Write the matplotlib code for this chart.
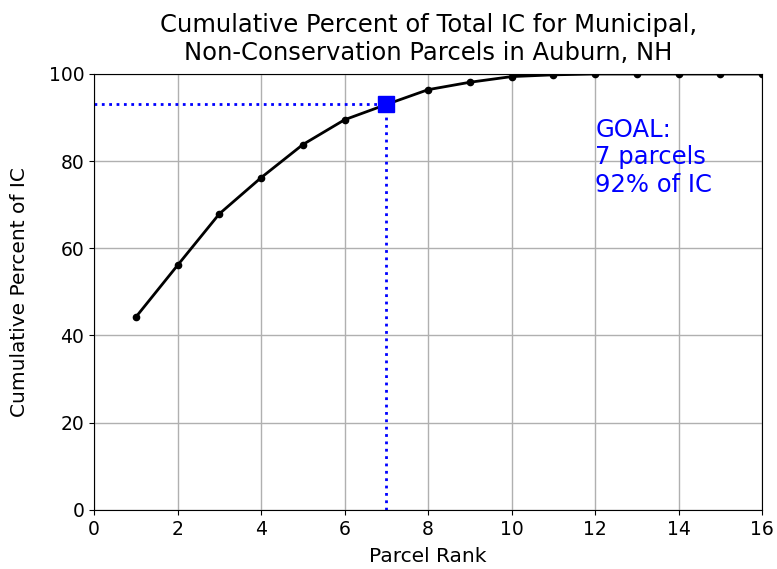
import numpy as np
import matplotlib
matplotlib.use("Agg")
import matplotlib.pyplot as plt

rank = [1, 2, 3, 4, 5, 6, 7, 8, 9, 10, 11, 12, 13, 14, 15, 16]
cum_pct = [44.2, 56.1, 67.9, 76.2, 83.8, 89.5, 93.0, 96.4, 98.1, 99.4, 99.8, 100, 100, 100, 100, 100]
goal_rank = 7
goal_pct = 93.0

fig = plt.figure(figsize=(7.77, 5.69), dpi=100)
ax = fig.add_axes([0.121, 0.104, 0.86, 0.766])

ax.plot(rank, cum_pct, "k.-", lw=2, ms=9)
ax.plot([0, goal_rank], [goal_pct, goal_pct], "b:", lw=2)
ax.plot([goal_rank, goal_rank], [0, goal_pct], "b:", lw=2)
ax.plot(goal_rank, goal_pct, "bs", ms=11)

ax.text(12, 90.0, "GOAL:\n7 parcels\n92% of IC", color="blue", fontsize=17.5,
        va="top", ha="left", linespacing=1.2)

ax.set_xlim(0, 16)
ax.set_ylim(0, 100)
ax.set_xticks(np.arange(0, 17, 2))
ax.grid(True, color="#b0b0b0", lw=1)
ax.tick_params(labelsize=13.5)
ax.set_xlabel("Parcel Rank", fontsize=14.5, labelpad=6)
ax.set_ylabel("Cumulative Percent of IC", fontsize=14.5, labelpad=14)
ax.set_title("Cumulative Percent of Total IC for Municipal,\nNon-Conservation Parcels in Auburn, NH",
             fontsize=17.5, pad=10)

fig.savefig("out.png")
